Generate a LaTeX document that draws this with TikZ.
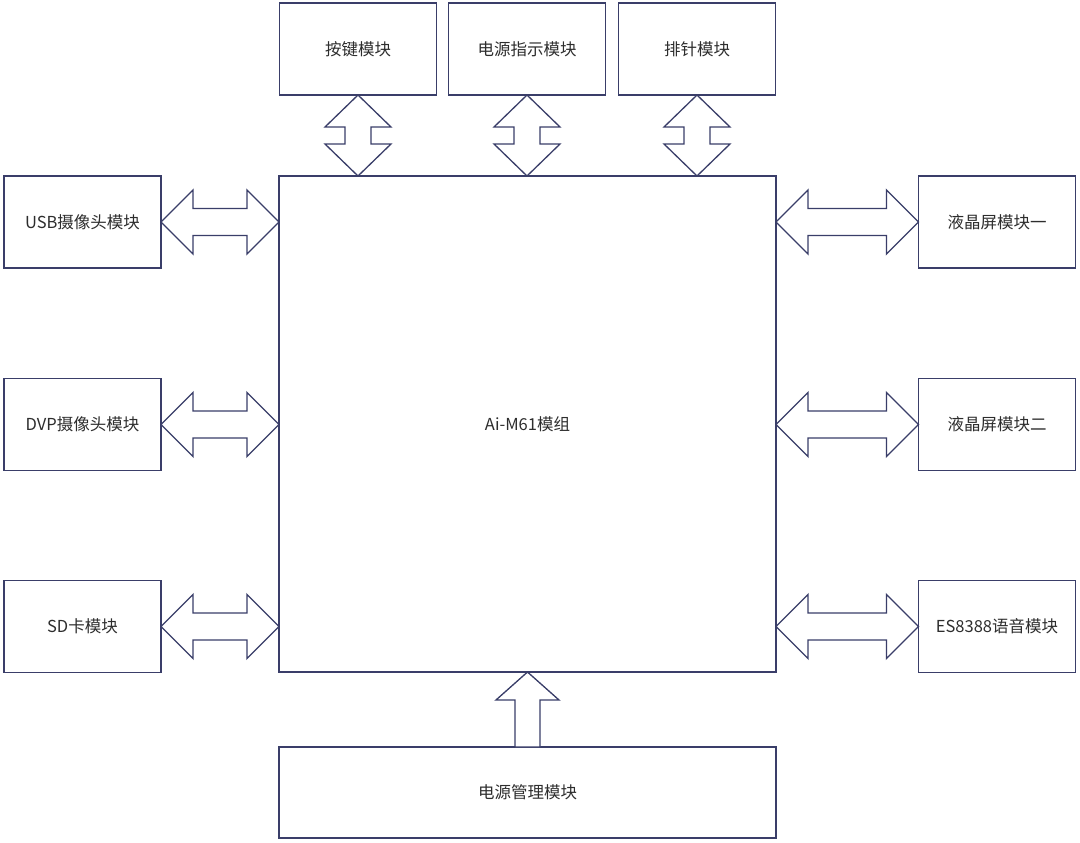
\documentclass[tikz,border=0pt]{standalone}
\usepackage{fontspec}
\setmainfont{Noto Sans CJK SC}
\usetikzlibrary{calc}
\definecolor{ln}{RGB}{58,62,105}
\definecolor{tx}{RGB}{45,45,45}
\newcommand\myharrow[2]{\path[arr] let \p1=(#1),\p2=(#2) in (\p1) -- (\x1+32pt,\y1+32pt) -- (\x1+32pt,\y1+13.5pt) -- (\x2-32pt,\y1+13.5pt) -- (\x2-32pt,\y1+32pt) -- (\p2) -- (\x2-32pt,\y1-32pt) -- (\x2-32pt,\y1-13.5pt) -- (\x1+32pt,\y1-13.5pt) -- (\x1+32pt,\y1-32pt) -- cycle;}
\newcommand\myvarrow[2]{\path[arr] let \p1=(#1),\p2=(#2) in (\p1) -- (\x1+33pt,\y1-32pt) -- (\x1+13pt,\y1-32pt) -- (\x1+13pt,\y2+32pt) -- (\x1+33pt,\y2+32pt) -- (\p2) -- (\x1-33pt,\y2+32pt) -- (\x1-13pt,\y2+32pt) -- (\x1-13pt,\y1-32pt) -- (\x1-33pt,\y1-32pt) -- cycle;}
\begin{document}
\begin{tikzpicture}[x=1pt,y=1pt,
 blk/.style={draw=ln,line width=1.3pt,fill=white,inner sep=0pt,outer sep=0pt,text=tx,font=\fontsize{16.5}{19}\selectfont},
 sbox/.style={blk,minimum width=157pt,minimum height=92pt},
 arr/.style={draw=ln,line width=1.3pt,line join=miter,fill=white}]
\useasboundingbox[fill=white] (0,0) rectangle (1080,-843);
\node[sbox] (key) at (358,-49) {按键模块};
\node[sbox] (pwr) at (527,-49) {电源指示模块};
\node[sbox] (pin) at (697,-49) {排针模块};
\node[blk,minimum width=497pt,minimum height=496pt] (main) at (527.5,-424) {Ai-M61模组};
\node[sbox] (usb) at (82.5,-222) {USB摄像头模块};
\node[sbox] (dvp) at (82.5,-424.5) {DVP摄像头模块};
\node[sbox] (sd) at (82.5,-626.5) {SD卡模块};
\node[sbox] (lcd1) at (997,-222) {液晶屏模块一};
\node[sbox] (lcd2) at (997,-424.5) {液晶屏模块二};
\node[sbox] (es) at (997,-626.5) {ES8388语音模块};
\node[blk,minimum width=497pt,minimum height=91pt] (pm) at (527.5,-792.5) {电源管理模块};
\myharrow{usb.east}{usb.east -| main.west}
\myharrow{dvp.east}{dvp.east -| main.west}
\myharrow{sd.east}{sd.east -| main.west}
\myharrow{lcd1.west -| main.east}{lcd1.west}
\myharrow{lcd2.west -| main.east}{lcd2.west}
\myharrow{es.west -| main.east}{es.west}
\myvarrow{key.south}{key.south |- main.north}
\myvarrow{pwr.south}{pwr.south |- main.north}
\myvarrow{pin.south}{pin.south |- main.north}
\path[arr] let \p1=(pm.north |- main.south),\p2=(pm.north) in (\p1) -- (\x1+31.5pt,\y1-28pt) -- (\x1+12.5pt,\y1-28pt) -- (\x1+12.5pt,\y2) -- (\x1-12.5pt,\y2) -- (\x1-12.5pt,\y1-28pt) -- (\x1-31.5pt,\y1-28pt) -- cycle;
\end{tikzpicture}
\end{document}
